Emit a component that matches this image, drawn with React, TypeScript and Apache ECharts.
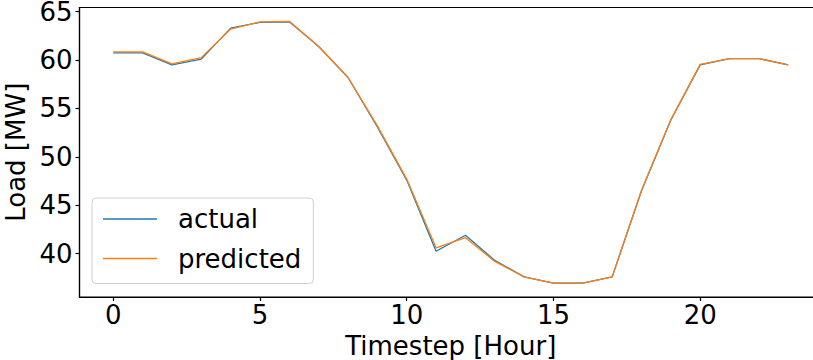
import React, { useEffect, useRef } from "react";
import * as echarts from "echarts";

const hours = [0, 1, 2, 3, 4, 5, 6, 7, 8, 9, 10, 11, 12, 13, 14, 15, 16, 17, 18, 19, 20, 21, 22, 23];
const actual = [60.75, 60.75, 59.5, 60.1, 63.3, 63.9, 63.95, 61.4, 58.2, 53.1, 47.6, 40.25, 41.9, 39.3, 37.6, 36.95, 36.95, 37.6, 46.5, 53.8, 59.5, 60.15, 60.15, 59.5];
const predicted = [60.85, 60.85, 59.6, 60.25, 63.2, 63.95, 64.0, 61.4, 58.2, 53.2, 47.7, 40.6, 41.65, 39.2, 37.6, 36.95, 36.95, 37.6, 46.55, 53.85, 59.55, 60.15, 60.15, 59.5];
const xTicks = [0, 5, 10, 15, 20];
const yTicks = [40, 45, 50, 55, 60, 65];

const FONT = "DejaVu Sans";
const FS = 26;

export default function App() {
  const ref = useRef<HTMLDivElement>(null);
  useEffect(() => {
    const chart = echarts.init(ref.current!, null, { renderer: "svg" });
    const axisLine = { show: true, onZero: false, lineStyle: { color: "#000", width: 1.2 } };
    const tick = { show: true, length: 4, lineStyle: { color: "#000", width: 1.2 } };
    chart.setOption({
      animation: false,
      backgroundColor: "#fff",
      grid: { left: 79.5, right: 9, top: 7.5, bottom: 63, containLabel: false, outerBoundsMode: "none", show: true, borderColor: "#000", borderWidth: 1.2, backgroundColor: "transparent" },
      xAxis: {
        type: "value",
        min: -1.15,
        max: 24.15,
        axisLine,
        splitLine: { show: false },
        axisTick: { ...tick, customValues: xTicks },
        axisLabel: { customValues: xTicks, fontSize: FS, fontFamily: FONT, color: "#000", margin: 5 },
        name: "Timestep [Hour]",
        nameLocation: "middle",
        nameGap: 22,
        nameTextStyle: { fontSize: FS, fontFamily: FONT, color: "#000" },
      },
      yAxis: {
        type: "value",
        min: 35.52,
        max: 65.43,
        axisLine,
        splitLine: { show: false },
        axisTick: { ...tick, customValues: yTicks },
        axisLabel: { customValues: yTicks, fontSize: FS, fontFamily: FONT, color: "#000", margin: 7 },
        name: "Load [MW]",
        nameLocation: "middle",
        nameGap: 46,
        nameTextStyle: { fontSize: FS, fontFamily: FONT, color: "#000" },
      },
      legend: {
        orient: "vertical",
        left: 92,
        top: 198,
        backgroundColor: "#fff",
        borderColor: "#d0d0d0",
        borderWidth: 1,
        borderRadius: 4,
        padding: [6, 12, 10, 11],
        itemGap: 9.5,
        itemWidth: 54,
        itemHeight: 1.5,
        icon: "rect",
        textStyle: { fontSize: FS, fontFamily: FONT, color: "#000", lineHeight: 30, padding: [0, 0, 0, 16] },
        data: ["actual", "predicted"],
      },
      series: [
        {
          name: "actual",
          type: "line",
          data: hours.map((h, i) => [h, actual[i]]),
          showSymbol: false,
          symbol: "none",
          lineStyle: { color: "#1f77b4", width: 1.3 },
          itemStyle: { color: "#1f77b4" },
        },
        {
          name: "predicted",
          type: "line",
          data: hours.map((h, i) => [h, predicted[i]]),
          showSymbol: false,
          symbol: "none",
          lineStyle: { color: "#ff7f0e", width: 1.3 },
          itemStyle: { color: "#ff7f0e" },
        },
      ],
    });
    return () => chart.dispose();
  }, []);
  return (
    <div style={{ width: 813, height: 360, position: "absolute", left: 0, top: 0, overflow: "hidden" }}>
      <div ref={ref} style={{ width: 831, height: 360 }} />
    </div>
  );
}
